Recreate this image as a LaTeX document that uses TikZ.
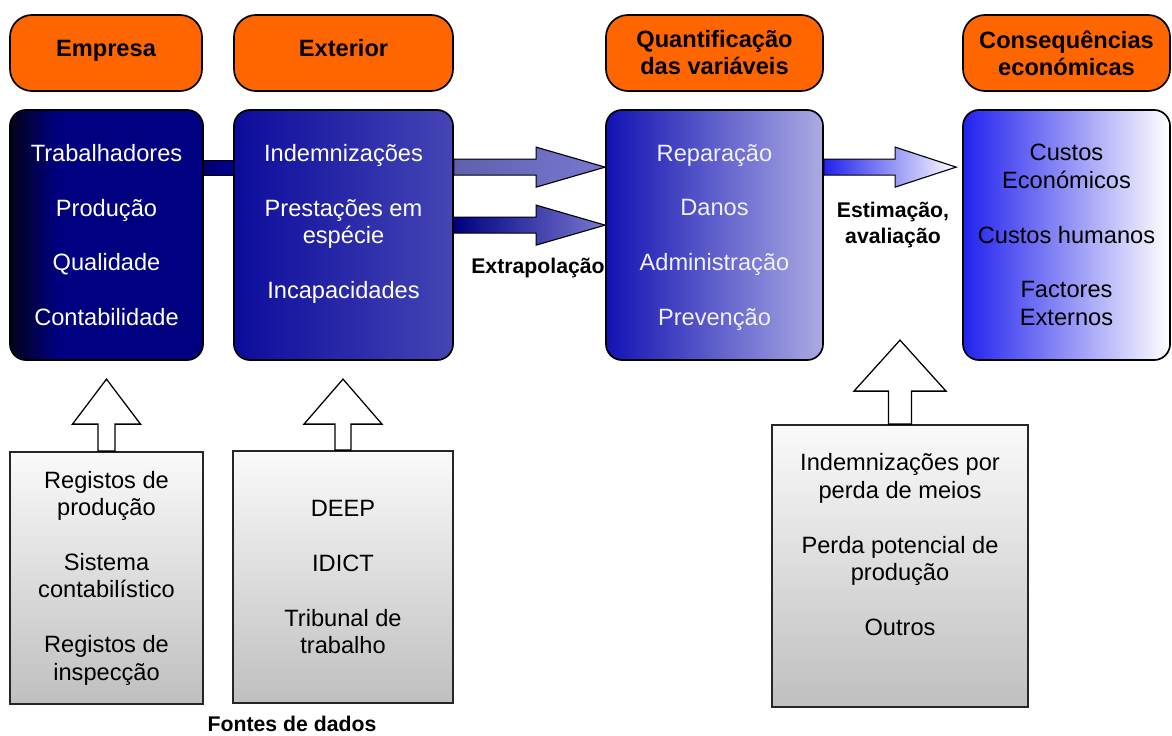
\documentclass[tikz,border=0pt]{standalone}
\usepackage{fontspec}
\setmainfont{Liberation Sans}
\usepackage{xcolor}
\usetikzlibrary{calc}

\definecolor{hdorange}{HTML}{FF6600}
\definecolor{empleft}{HTML}{03031A}
\definecolor{empright}{HTML}{000080}
\definecolor{extleft}{HTML}{0C0C9C}
\definecolor{extright}{HTML}{4545B5}
\definecolor{qleft}{HTML}{1212B4}
\definecolor{qright}{HTML}{ABABE3}
\definecolor{cleft}{HTML}{2222EE}
\definecolor{srctop}{HTML}{FAFAFA}
\definecolor{srcbot}{HTML}{BFBFBF}

\pgfdeclarehorizontalshading{empshade}{100bp}{color(0bp)=(empleft); color(25bp)=(empleft); color(37bp)=(empright); color(100bp)=(empright)}

\newcommand{\bodyfont}{\fontsize{16.8}{19.5}\selectfont}
\newcommand{\hdfont}{\bfseries\fontsize{16.8}{19.2}\selectfont}
\newcommand{\lblfont}{\bfseries\fontsize{15.1}{19}\selectfont}
\newcommand{\pgap}{19.5pt}

% block arrow: style, start, tip, head length
\newcommand{\flowarrow}[4]{%
    \path[flow, #1] ($(#2)+(0,-8)$) -- ($(#3)+(-#4,-8)$) -- ($(#3)+(-#4,-20)$) -- (#3)
        -- ($(#3)+(-#4,20)$) -- ($(#3)+(-#4,8)$) -- ($(#2)+(0,8)$) -- cycle;}
% up arrow on a source box: node, shaft half width, head half width, length, shaft length
\newcommand{\srcarrow}[5]{%
    \draw[srcarr] (#1.north) ++(-#2,0) -- ++(0,-#5) -- ++({#2-#3},0) -- ++(#3,{-(#4-#5)})
        -- ++(#3,{#4-#5}) -- ++({#2-#3},0) -- ++(0,#5) -- cycle;}

\tikzset{
    head/.style={draw=black, line width=1.2pt, fill=hdorange, rounded corners=0.55cm,
        align=center, font=\hdfont, inner sep=0pt, minimum height=1.9cm},
    onehead/.style={head, text height=12pt, text depth=7pt},
    panel/.style={draw=black, line width=1.2pt, rounded corners=0.4cm, align=center,
        font=\bodyfont, inner sep=0pt, minimum height=6.25cm},
    source/.style={draw=black!85, line width=1.2pt, top color=srctop, bottom color=srcbot,
        align=center, font=\bodyfont, inner sep=0pt},
    srcarr/.style={draw=black, line width=0.9pt, fill=white},
    flow/.style={draw=black, line width=0.8pt},
    lbl/.style={font=\lblfont, align=center},
}

\begin{document}
\begin{tikzpicture}[x=0.025cm, y=-0.025cm]
    \useasboundingbox (0,0) rectangle (1172,736);

    % ===== Headers =====
    \node[onehead, minimum width=4.8cm] (h-emp) at (106,53) {Empresa};
    \node[onehead, minimum width=5.475cm] (h-ext) at (343.5,53) {Exterior};
    \node[head, minimum width=5.425cm] (h-quant) at (714.5,53) {Quantificação\\das variáveis};
    \node[head, minimum width=5.175cm] (h-cons) at (1066.5,53) {Consequências\\económicas};

    % ===== Main panels =====
    \node[panel, minimum width=4.825cm, shade, shading=empshade, text=white] (b-emp) at (106.5,235)
        {Trabalhadores\\[\pgap]Produção\\[\pgap]Qualidade\\[\pgap]Contabilidade};
    \node[panel, minimum width=5.475cm, left color=extleft, right color=extright, text=white] (b-ext) at (343.5,235)
        {Indemnizações\\[\pgap]Prestações em\\espécie\\[\pgap]Incapacidades\\\mbox{}};
    \node[panel, minimum width=5.425cm, left color=qleft, right color=qright, text=white!94!blue] (b-quant) at (714.5,235)
        {Reparação\\[\pgap]Danos\\[\pgap]Administração\\[\pgap]Preven\smash{ção}};
    \node[panel, minimum width=5.175cm, left color=cleft, right color=white, text=black] (b-cons) at (1066.5,235)
        {Custos\\Económicos\\[\pgap]Custos humanos\\[\pgap]Factores\\Externos};

    % ===== Data sources =====
    \node[source, minimum width=4.825cm, minimum height=6.3cm] (g-emp) at (106.5,578)
        {Registos de\\produção\\[\pgap]Sistema\\contabilístico\\[\pgap]Registos de\\inspecção};
    \node[source, minimum width=5.5cm, minimum height=6.3cm] (g-ext) at (343,577)
        {DEEP\\[\pgap]IDICT\\[\pgap]Tribunal de\\trabalho};
    \node[source, minimum width=6.4cm, minimum height=7.05cm] (g-cons) at (900,566)
        {Indemnizações por\\perda de meios\\[\pgap]Perda potencial de\\produção\\[\pgap]Outros\\[11pt]\mbox{}};

    \srcarrow{g-emp}{8.5}{34}{72}{27}
    \srcarrow{g-ext}{8}{39}{71}{26}
    \srcarrow{g-cons}{11.5}{46}{84}{33}

    % ===== Connectors =====
    \path[flow, left color=empright!85!black, right color=empright!85!blue]
        ($(b-emp.north east)+(0,51)$) rectangle ($(b-ext.north west)+(0,66)$);

    \coordinate (x1) at ($(b-ext.north east)+(0,58)$);
    \coordinate (q1) at ($(b-quant.north west)+(0,58)$);
    \coordinate (x2) at ($(b-ext.north east)+(0,116)$);
    \coordinate (q2) at ($(b-quant.north west)+(0,116)$);
    \coordinate (q3) at ($(b-quant.north east)+(0,58)$);
    \coordinate (c3) at ($(b-cons.north west)+(-6,58)$);

    \flowarrow{left color=extright!80!white!90!black, right color=qleft!25!qright!80!extright}{x1}{q1}{69}
    \flowarrow{left color=empright, right color=qleft!25!qright!80!extright}{x2}{q2}{69}
    \flowarrow{left color=cleft, right color=white}{q3}{c3}{61}

    % ===== Labels =====
    \node[lbl] (extrap) at (538,268) {Extrapolação};
    \node[lbl] (estim) at (893,225) {Estimação,\\avaliação};
    \node[lbl] (fontes) at (292,724) {Fontes de dados};
\end{tikzpicture}
\end{document}
